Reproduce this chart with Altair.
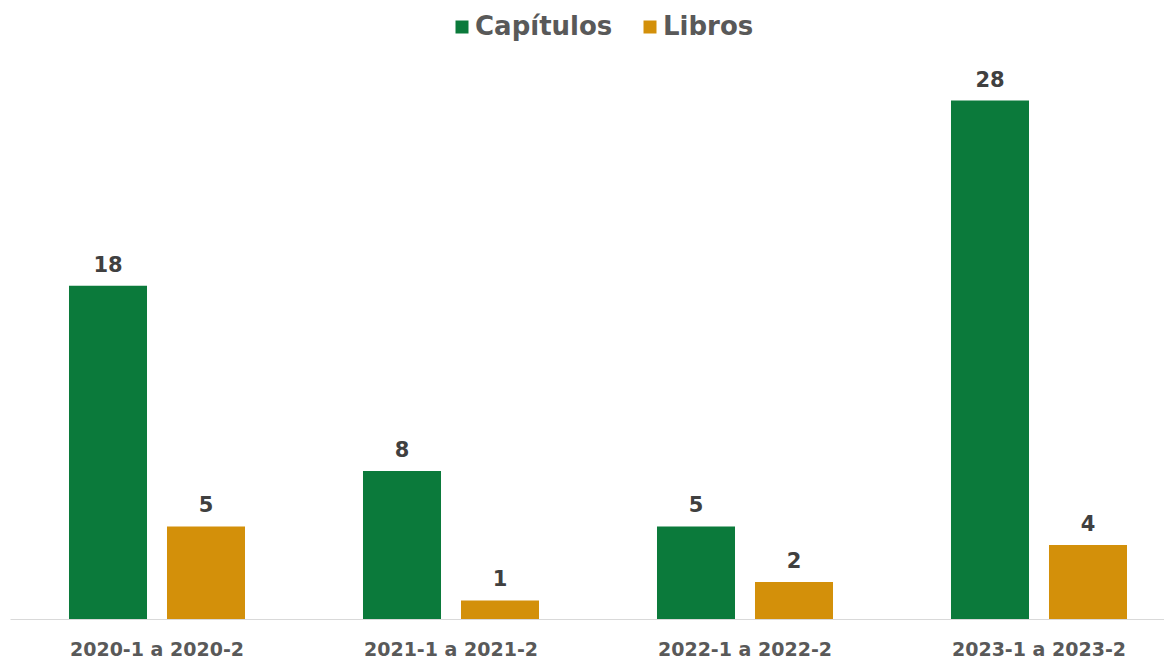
import altair as alt
import pandas as pd

periodos = ["2020-1 a 2020-2", "2021-1 a 2021-2", "2022-1 a 2022-2", "2023-1 a 2023-2"]
capitulos = [18, 8, 5, 28]
libros = [5, 1, 2, 4]
series = ["Capítulos", "Libros"]
colores = ["#0b7a3b", "#d3900a"]

rows = []
for p, c, l in zip(periodos, capitulos, libros):
    rows.append({"periodo": p, "tipo": series[0], "valor": c})
    rows.append({"periodo": p, "tipo": series[1], "valor": l})
df = pd.DataFrame(rows)

FONT = "DejaVu Sans"

x = alt.X(
    "periodo:N",
    sort=periodos,
    title=None,
    scale=alt.Scale(range=[2, 1178], paddingInner=0, paddingOuter=0),
    axis=alt.Axis(
        labelAngle=0,
        labelFont=FONT,
        labelFontSize=19,
        labelFontWeight="bold",
        labelColor="#595959",
        labelPadding=21,
        ticks=False,
        domainColor="#d9d9d9",
        domainWidth=1,
        grid=False,
    ),
)
xoff = alt.XOffset(
    "tipo:N",
    sort=series,
    scale=alt.Scale(paddingInner=0.204, paddingOuter=0.602),
)
y = alt.Y(
    "valor:Q",
    scale=alt.Scale(domain=[0, 33], nice=False),
    axis=None,
)

bars = alt.Chart(df).mark_bar().encode(
    x=x,
    xOffset=xoff,
    y=y,
    color=alt.Color(
        "tipo:N",
        sort=series,
        scale=alt.Scale(domain=series, range=colores),
        legend=alt.Legend(
            title=None,
            orient="none",
            direction="horizontal",
            legendX=441,
            legendY=6,
            symbolType="square",
            symbolSize=169,
            symbolStrokeWidth=0,
            symbolOpacity=1,
            labelFont=FONT,
            labelFontSize=26,
            labelFontWeight="bold",
            labelColor="#595959",
            labelOffset=0,
            columnPadding=24,
        ),
    ),
)

labels = alt.Chart(df).mark_text(
    font=FONT,
    fontSize=21,
    fontWeight="bold",
    color="#404040",
    baseline="alphabetic",
    dy=-14,
).encode(
    x=x,
    xOffset=xoff,
    y=y,
    text=alt.Text("valor:Q"),
)

chart = (
    alt.layer(bars, labels)
    .properties(
        width=1156,
        height=611,
        background="white",
        autosize=alt.AutoSizeParams(type="none"),
        padding={"left": 0, "top": 0, "right": 0, "bottom": 40},
    )
    .configure_view(stroke="transparent", strokeWidth=0)
)

chart.save("out.html", embed_options={"renderer": "svg", "actions": False})
